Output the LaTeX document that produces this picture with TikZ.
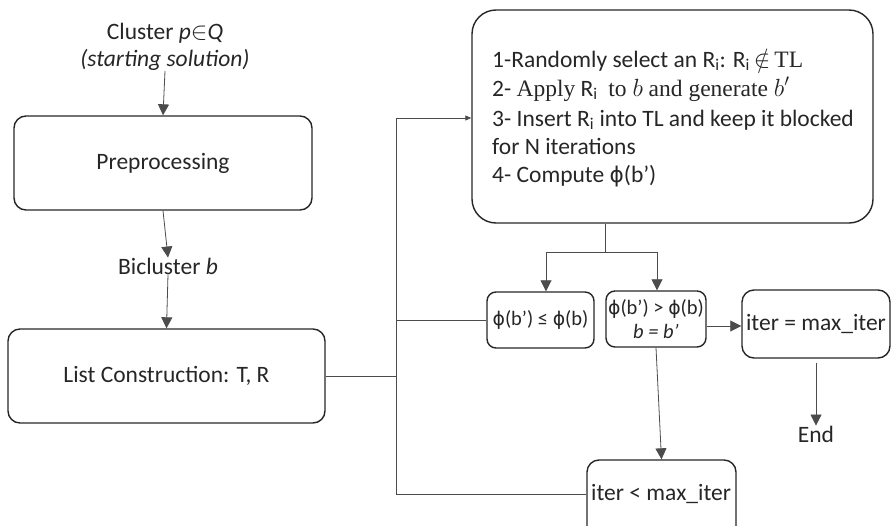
\documentclass[tikz,border=0pt]{standalone}
\usepackage{fontspec}
\setmainfont{Carlito}
\newfontfamily\srf{Liberation Serif}
\newfontfamily\djv[Scale=0.92]{DejaVu Sans}
\newcommand{\ph}{{\djv ϕ}}
\usetikzlibrary{arrows.meta,calc}
\begin{document}
\begin{tikzpicture}[x=1pt,y=-1pt,
  box/.style={draw=black!85,line width=1.4pt,rounded corners=12pt,inner sep=0pt,
    font=\fontsize{23.5}{28}\selectfont,text=black!85},
  sbox/.style={box,rounded corners=9pt,font=\fontsize{20.5}{24}\selectfont},
  lbl/.style={inner sep=0pt,font=\fontsize{23.5}{27}\selectfont,text=black!85,align=center},
  conn/.style={draw=black!70,line width=0.8pt},
  arr/.style={conn,-{Triangle[width=11pt,length=11pt]}},
  sarr/.style={conn,-{Triangle[width=5pt,length=6pt]}}]
\path[use as bounding box,clip] (0,0) rectangle (891,525);

\node[lbl] (cluster) at (165,47) {Cluster \textit{p}$\in$\textit{Q}\\\textit{(starting solution)}};
\node[box,minimum width=298pt,minimum height=94pt] (pre) at (163,163) {Preprocessing};
\node[lbl] (bic) at (168,266) {Bicluster \textit{b}};
\node[box,minimum width=317pt,minimum height=94pt] (list) at (166.5,376) {List Construction: T, R};

\node[box,rounded corners=24pt,minimum width=401pt,minimum height=213pt] (big) at (672.5,116.5) {};
\node[lbl,align=left,font=\fontsize{23.5}{28}\selectfont,anchor=base west] (bigt) at (492,182)
  {1-Randomly select an R\textsubscript{i}: R\textsubscript{i}\,$\notin$\,{\srf TL}\\[1pt]
   2- {\srf Apply} R\textsubscript{i}\ \ {\srf to $b$ and generate $b'$}\\[2pt]
   3- Insert R\textsubscript{i} into TL and keep it blocked\\
   for N iterations\\
   4- Compute \ph(b’)};

\node[sbox,minimum width=107pt,minimum height=56pt] (phi1) at (540.5,320) {\ph(b’) ≤ \ph(b)};
\node[sbox,minimum width=100pt,minimum height=56pt,align=center] (phi2) at (656,319) {\ph(b’) > \ph(b)\\\textit{b = b’}};
\node[box,minimum width=148pt,minimum height=68pt] (itmax) at (816,324) {iter = max\_iter};
\node[lbl] (end) at (816,434) {End};
\node[box,minimum width=149pt,minimum height=90pt] (itless) at (661.5,505) {};
\node[lbl,anchor=west] (itlesst) at (591,494) {iter < max\_iter};

\draw[arr] (cluster.south) -- (pre.north);
\draw[arr] (pre.south) -- (bic.north);
\draw[arr] (bic.south) -- (list.north);

\coordinate (jtop) at (396,118);
\coordinate (jbot) at (396,494);
\draw[conn] (itless.west |- jbot) -- (jbot) -- (jtop);
\draw[sarr] (jtop) -- (jtop -| big.west);
\draw[conn] (list.east) -- (list.east -| jtop);
\draw[conn] (phi1.west) -- (phi1.west -| jtop);

\coordinate (split) at (605,252);
\coordinate (sl) at (546,252);
\coordinate (sr) at (657,252);
\draw[conn] (big.south -| split) -- (split);
\draw[conn] (sl) -- (sr);
\draw[arr] (sl) -- (sl |- phi1.north);
\draw[arr] (sr) -- (sr |- phi2.north);

\coordinate (pe) at ([yshift=-7pt]phi2.east);
\draw[arr] (pe) -- (pe -| itmax.west);
\draw[arr] (phi2.south) -- (itless.north);
\draw[arr] ([yshift=-4pt]itmax.south) -- (end.north);
\end{tikzpicture}
\end{document}
